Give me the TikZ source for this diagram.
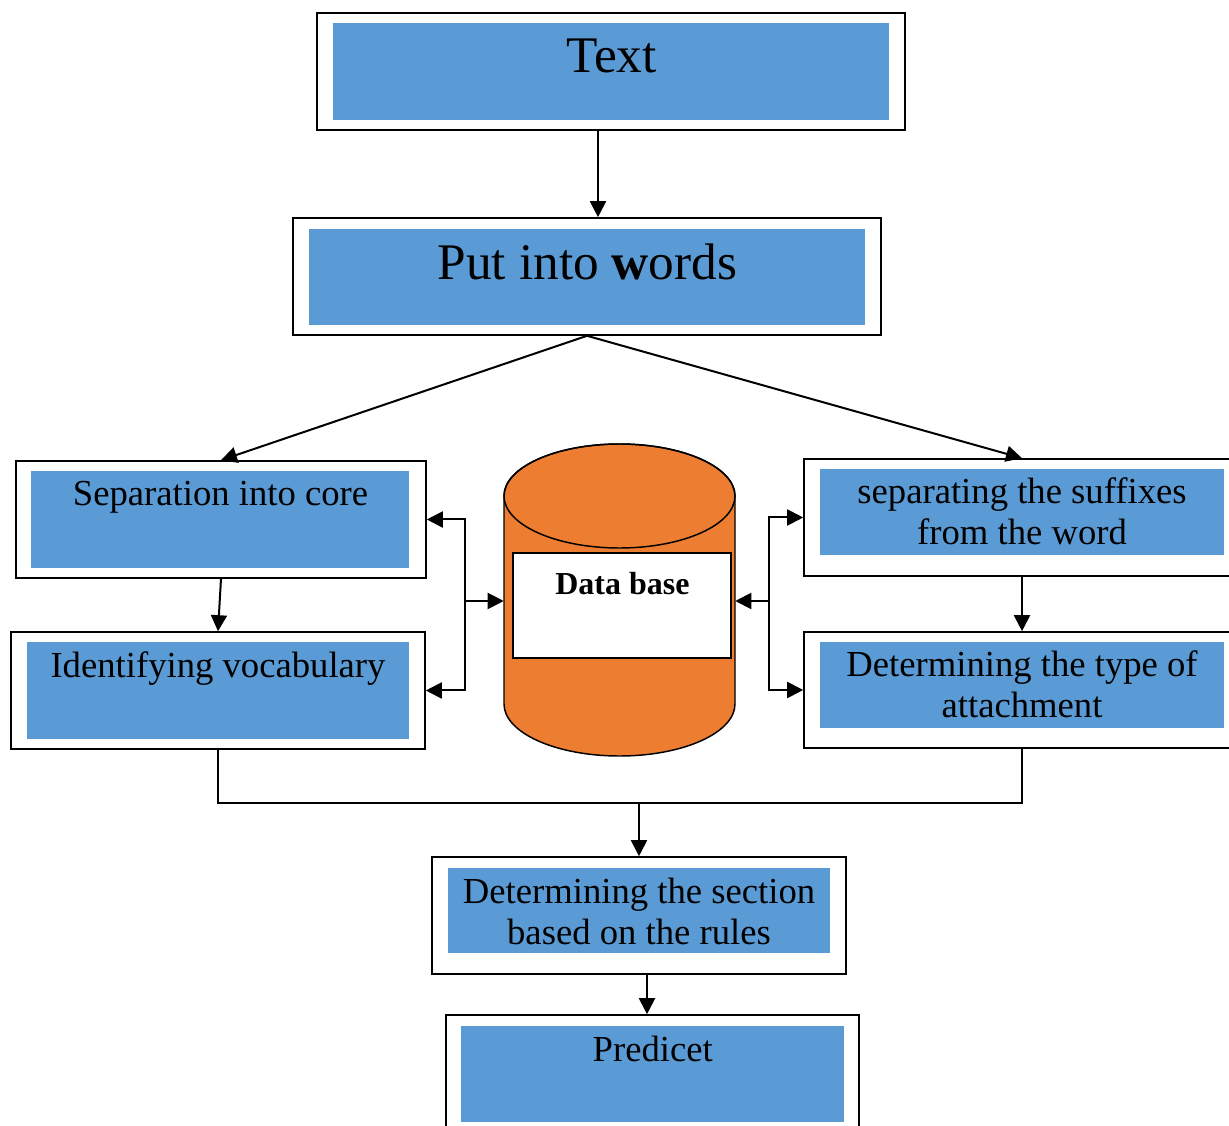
\documentclass[tikz,border=0pt]{standalone}
\usepackage{fontspec}
\setmainfont{Liberation Serif}
\usetikzlibrary{arrows.meta}
\definecolor{boxblue}{HTML}{5B9BD5}
\definecolor{dborange}{HTML}{ED7D31}
\begin{document}
\begin{tikzpicture}[x=0.75pt,y=-0.75pt,
 outerbox/.style={draw=black,line width=1.2pt,fill=white,inner sep=0pt,minimum height=87.75pt},
 innerbox/.style={fill=boxblue,inner sep=0pt},
 lbl/.style={anchor=base,inner sep=0pt,font=\fontsize{27.5}{31}\selectfont},
 biglbl/.style={anchor=base,inner sep=0pt,font=\fontsize{38.5}{44}\selectfont},
 conn/.style={line width=1.5pt},
 arr/.style={conn,-{Triangle[length=12pt,width=12pt]}}]
\useasboundingbox (0,0) rectangle (1229,1126);

% Text
\node[outerbox,minimum width=441pt] (tO) at (611,71.5) {};
\node[innerbox,minimum width=417pt,minimum height=72.75pt] (tI) at (611,71.5) {};
\node[biglbl] (tL) at (611.5,73) {Text};

% Put into words
\node[outerbox,minimum width=441pt] (pO) at (587,276.5) {};
\node[innerbox,minimum width=417pt,minimum height=72pt] (pI) at (587,277) {};
\node[biglbl] (pL) at (587.5,280) {Put into \textbf{w}ords};

% Separation into core
\node[outerbox,minimum width=307.5pt] (sO) at (221,519.5) {};
\node[innerbox,minimum width=283.5pt,minimum height=72.75pt] (sI) at (220,519.5) {};
\node[lbl] (sL) at (220.5,506) {Separation into core};

% Identifying vocabulary
\node[outerbox,minimum width=310.5pt] (iO) at (218,690.5) {};
\node[innerbox,minimum width=286.5pt,minimum height=72.75pt] (iI) at (218,690.5) {};
\node[lbl] (iL) at (218,678) {Identifying vocabulary};

% separating the suffixes
\node[outerbox,minimum width=327pt] (xO) at (1022,517.5) {};
\node[innerbox,minimum width=303pt,minimum height=64.5pt] (xI) at (1022,512) {};
\node[lbl] (xL1) at (1022,504) {separating the suffixes};
\node[lbl] (xL2) at (1022,545) {from the word};

% Determining the type of attachment
\node[outerbox,minimum width=327pt,minimum height=87pt] (yO) at (1022,690) {};
\node[innerbox,minimum width=303pt,minimum height=64.5pt] (yI) at (1022,685) {};
\node[lbl] (yL1) at (1022,677) {Determining the type of};
\node[lbl] (yL2) at (1022,718) {attachment};

% Determining the section
\node[outerbox,minimum width=310.5pt] (cO) at (639,915.5) {};
\node[innerbox,minimum width=286.5pt,minimum height=63.75pt] (cI) at (639,910.5) {};
\node[lbl] (cL1) at (639,903) {Determining the section};
\node[lbl] (cL2) at (639,944) {based on the rules};

% Predicet
\node[outerbox,minimum width=309.75pt] (rO) at (652.5,1073.5) {};
\node[innerbox,minimum width=287.25pt,minimum height=72pt] (rI) at (652.5,1074) {};
\node[lbl] (rL) at (652.8,1061) {Predicet};

% Database cylinder
\path[draw=black,line width=1.1pt,fill=dborange] (504,496) -- (504,704)
  arc[start angle=180,end angle=360,x radius=86.625pt,y radius=39pt]
  -- (735,496)
  arc[start angle=0,end angle=180,x radius=86.625pt,y radius=39pt] -- cycle;
\draw[line width=1.1pt] (619.5,496) ellipse[x radius=86.625pt,y radius=39pt];
\node[inner sep=0pt,minimum width=173.25pt,minimum height=1pt] (db) at (619.5,601) {};
\node[draw=black,line width=1.1pt,fill=white,inner sep=0pt,minimum width=163.5pt,minimum height=78.75pt] (dbB) at (622,605.5) {};
\node[anchor=base,inner sep=0pt,font=\fontsize{24}{28}\selectfont\bfseries] (dbL) at (622.5,595) {Data base};

% connectors
\draw[arr] ([xshift=-9.75pt]tO.south) -- ([xshift=-9.75pt]tO.south |- pO.north);
\draw[arr] (pO.south) -- (sO.north);
\draw[arr] (pO.south) -- (xO.north);
\draw[arr] (sO.south) -- (iO.north);
\draw[arr] (xO.south) -- (yO.north);

\coordinate (lb) at (465,601);
\draw[arr] (lb) -- (db.west);
\draw[arr] (lb) |- (sO.east);
\draw[arr] (lb) |- (iO.east);

\coordinate (rb) at (769,601);
\draw[arr] (rb) -- (db.east);
\draw[arr] (rb) |- (xO.west);
\draw[arr] (rb) |- (yO.west);

\coordinate (m) at (639,803);
\draw[conn] (iO.south) |- (m);
\draw[conn] (m) -| (yO.south);
\draw[arr] (m) -- (cO.north);
\draw[arr] ([xshift=6pt]cO.south) -- ([xshift=6pt]cO.south |- rO.north);
\end{tikzpicture}
\end{document}
